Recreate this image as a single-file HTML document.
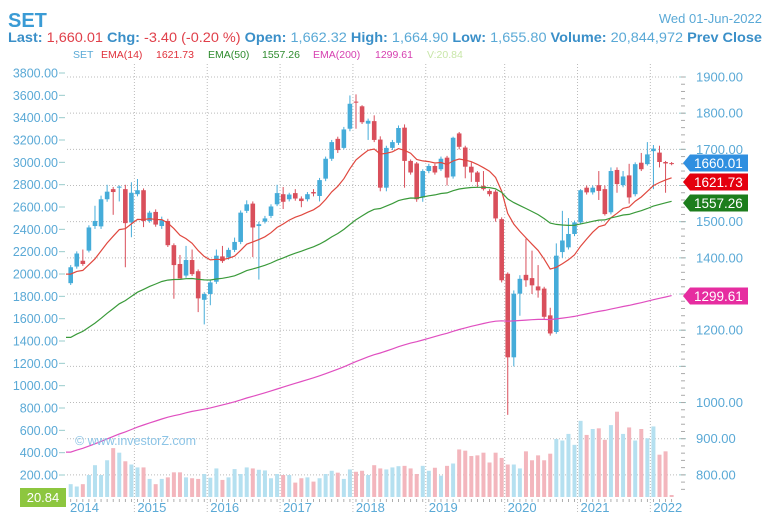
<!DOCTYPE html>
<html><head><meta charset="utf-8"><style>
html,body{margin:0;padding:0;background:#fff;}
svg{display:block;font-family:"Liberation Sans",sans-serif;}
</style></head><body>
<svg id="chart" width="768" height="518" viewBox="0 0 768 518" xmlns="http://www.w3.org/2000/svg">
<text x="8" y="27" font-size="20" font-weight="bold" fill="#3a9bd5">SET</text>
<text x="762" y="23" font-size="13" fill="#5aa9d6" text-anchor="end">Wed 01-Jun-2022</text>
<text x="8" y="42" font-size="13.5" textLength="754" lengthAdjust="spacingAndGlyphs"><tspan font-weight="bold" fill="#3a8fc8">Last:</tspan><tspan fill="#e0404a"> 1,660.01 </tspan><tspan font-weight="bold" fill="#3a8fc8">Chg:</tspan><tspan fill="#e0404a"> -3.40 (-0.20 %) </tspan><tspan font-weight="bold" fill="#3a8fc8"> Open:</tspan><tspan fill="#5aa9d6"> 1,662.32 </tspan><tspan font-weight="bold" fill="#3a8fc8">High:</tspan><tspan fill="#5aa9d6"> 1,664.90 </tspan><tspan font-weight="bold" fill="#3a8fc8">Low:</tspan><tspan fill="#5aa9d6"> 1,655.80 </tspan><tspan font-weight="bold" fill="#3a8fc8">Volume:</tspan><tspan fill="#5aa9d6"> 20,844,972 </tspan><tspan font-weight="bold" fill="#3a8fc8"> Prev Close</tspan></text>
<g font-size="10.5">
<text x="73" y="58" fill="#5aa9d6">SET</text>
<text x="101" y="58" fill="#e0303a">EMA(14)</text>
<text x="156" y="58" fill="#e0303a">1621.73</text>
<text x="208" y="58" fill="#2e8b2e">EMA(50)</text>
<text x="262" y="58" fill="#2e8b2e">1557.26</text>
<text x="313" y="58" fill="#d63fb0">EMA(200)</text>
<text x="375" y="58" fill="#d63fb0">1299.61</text>
<text x="427" y="58" fill="#c8e6a8">V:20.84</text>
</g>
<g id="grid"></g><g id="vol"></g><g id="candles"></g><g id="lines"></g><g id="axes"></g><g id="tags"></g>
<text x="75" y="445" font-size="12.5" fill="#8cc4e6">© www.investorZ.com</text>
</svg>
<script>
const years=["2014","2015","2016","2017","2018","2019","2020","2021","2022"];
const yearStartIndex=[-1,10,22,34,46,58,71,83,95];
const opens=[1330,1376,1392,1420,1488,1487,1562,1590,1594,1590,1498,1576,1587,1502,1527,1488,1502,1435,1383,1351,1394,1363,1284,1300,1334,1404,1401,1422,1444,1530,1550,1488,1500,1516,1548,1576,1562,1579,1564,1562,1582,1571,1619,1674,1729,1704,1757,1832,1819,1771,1778,1727,1594,1704,1718,1760,1668,1661,1567,1640,1654,1645,1677,1625,1744,1705,1652,1636,1599,1585,1583,1507,1356,1125,1301,1353,1344,1321,1315,1241,1195,1416,1429,1466,1498,1594,1581,1601,1590,1526,1643,1601,1628,1576,1663,1659,1695,1691,1665,1662];
const closes=[1374,1412,1383,1484,1502,1562,1583,1582,1597,1496,1580,1587,1502,1525,1492,1504,1435,1380,1343,1394,1355,1288,1300,1332,1406,1391,1422,1444,1525,1548,1484,1493,1509,1542,1579,1555,1575,1564,1557,1576,1578,1615,1674,1720,1698,1755,1826,1829,1775,1779,1726,1594,1704,1720,1759,1668,1636,1562,1640,1654,1636,1674,1622,1732,1707,1652,1636,1610,1590,1576,1509,1338,1125,1301,1342,1338,1324,1310,1237,1191,1406,1448,1466,1498,1587,1581,1594,1585,1521,1640,1604,1625,1567,1659,1645,1686,1702,1665,1661,1660];
const highs=[1380,1418,1423,1490,1544,1572,1602,1596,1600,1602,1609,1618,1592,1530,1534,1514,1508,1440,1408,1433,1423,1368,1305,1338,1423,1433,1428,1456,1531,1559,1556,1500,1516,1548,1602,1596,1580,1590,1570,1582,1590,1621,1680,1726,1735,1762,1849,1852,1822,1785,1794,1736,1710,1726,1766,1769,1672,1665,1645,1660,1660,1680,1682,1735,1748,1710,1664,1640,1640,1590,1588,1512,1360,1310,1352,1453,1420,1380,1320,1262,1440,1530,1510,1503,1590,1600,1600,1640,1600,1650,1650,1640,1660,1664,1690,1720,1712,1710,1668,1665];
const lows=[1325,1370,1378,1415,1480,1480,1555,1519,1556,1374,1457,1570,1485,1497,1486,1480,1430,1287,1343,1345,1350,1250,1216,1269,1328,1386,1395,1416,1438,1524,1402,1340,1495,1510,1543,1535,1556,1558,1540,1556,1570,1556,1612,1668,1690,1700,1750,1757,1770,1726,1720,1584,1584,1698,1712,1594,1630,1555,1555,1634,1630,1640,1600,1619,1700,1620,1610,1595,1586,1570,1500,1332,966,1100,1240,1320,1300,1290,1230,1185,1190,1400,1423,1460,1492,1575,1575,1560,1517,1520,1580,1595,1550,1570,1640,1655,1590,1650,1580,1656];
const volumes=[118,97,118,200,288,200,332,441,400,323,294,268,268,165,118,165,179,224,224,179,171,165,209,176,259,156,179,253,209,268,259,247,241,171,209,200,200,132,171,179,141,171,209,238,221,165,250,229,238,200,288,259,250,268,279,282,259,209,282,238,265,194,282,303,429,418,370,376,400,312,400,353,294,294,259,412,332,376,332,391,523,509,568,470,685,559,612,618,515,647,767,568,626,509,612,529,635,382,412,21];
const emaPeriods=[14,50,200];
const emaSeeds=[1355,1180,863];
const emaLast=["1621.73","1557.26","1299.61"];
const leftTicks=[3800,3600,3400,3200,3000,2800,2600,2400,2200,2000,1800,1600,1400,1200,1000,800,600,400,200];
const rightTicks=[1900,1800,1700,1600,1500,1400,1300,1200,1100,1000,900,800];
const rightLabelTicks=[1900,1800,1700,1500,1400,1200,1000,900,800];

const NS="http://www.w3.org/2000/svg";
function mk(tag,attrs,parent,txt){const e=document.createElementNS(NS,tag);for(const k in attrs)e.setAttribute(k,attrs[k]);if(txt!==undefined)e.textContent=txt;parent.appendChild(e);return e;}
const xOf=i=>70.7+i*6.07;
const yP=v=>77+(1900-v)*0.3617;
const yL=v=>73+(3800-v)*0.11167;
const G=id=>document.getElementById(id);
const grid=G('grid'),volG=G('vol'),cG=G('candles'),lG=G('lines'),aG=G('axes'),tG=G('tags');

rightTicks.forEach(v=>{
  const l=mk('line',{x1:67,x2:678,y1:yP(v),y2:yP(v),stroke:'#bbb','stroke-dasharray':'1,2','stroke-width':1},grid);
  
  
  mk('line',{x1:679,x2:686,y1:yP(v),y2:yP(v),stroke:'#9cc',"stroke-width":1},aG);
});
for(let v=1900;v>=760;v-=20){mk('line',{x1:681,x2:685,y1:yP(v),y2:yP(v),stroke:'#aaa','stroke-width':1},aG);}
rightLabelTicks.forEach(v=>{
  const t=mk('text',{x:696,y:yP(v)+4.5,'font-size':13,fill:'#5aa9d6'},aG,v.toFixed(2));
  
  
});
leftTicks.forEach(v=>{
  const t=mk('text',{x:58,y:yL(v)+4.5,'font-size':12.5,fill:'#5aa9d6','text-anchor':'end'},aG,v.toFixed(2));
  
  
  mk('line',{x1:59,x2:65,y1:yL(v),y2:yL(v),stroke:'#9cc','stroke-width':1},aG);
});
years.forEach((y,k)=>{
  const gx=xOf(yearStartIndex[k])+3;
  if(k>0){const l=mk('line',{x1:gx,x2:gx,y1:64,y2:512,stroke:'#bbb','stroke-dasharray':'1,2','stroke-width':1},grid);
  
  }
  const t=mk('text',{x:k===0?70:gx+3,y:512,'font-size':13,fill:'#5aa9d6'},aG,y);
  
  
});
for(let i=0;i<closes.length;i++){mk('line',{x1:xOf(i),x2:xOf(i),y1:499,y2:502,stroke:'#999','stroke-width':0.8},aG);}

closes.forEach((c,i)=>{
  const up=c>=opens[i];
  const top=yL(volumes[i]);
  const r=mk('rect',{x:xOf(i)-2,y:top,width:4,height:497-top,fill:up?'#b5e0f0':'#f3b6bd'},volG);
  
  
});
closes.forEach((c,i)=>{
  const up=c>=opens[i];const col=up?'#45acd9':'#d94f5b';
  const g=mk('g',{},cG);
  
  
  mk('line',{x1:xOf(i),x2:xOf(i),y1:yP(highs[i]),y2:yP(lows[i]),stroke:col,'stroke-width':1},g);
  const t=yP(Math.max(c,opens[i])),b=yP(Math.min(c,opens[i]));
  mk('rect',{x:xOf(i)-2.3,y:t,width:4.6,height:Math.max(1,b-t),fill:col},g);
});
const emaColors=['#e0483f','#3a9a3a','#e04fc0'];
const emaNames=['ema-14-line','ema-50-line','ema-200-line'];
emaPeriods.forEach((p,k)=>{
  const a=2/(p+1);let e=emaSeeds[k];const pts=[];
  closes.forEach((c,i)=>{if(i>0)e=e+a*(c-e);pts.push(xOf(i).toFixed(1)+','+yP(e).toFixed(1));});
  pts.unshift('66,'+yP(emaSeeds[k]).toFixed(1));
  const pl=mk('polyline',{points:pts.join(' '),fill:'none',stroke:emaColors[k],'stroke-width':1.2},lG);
  
  
});
const tagVals=[1660.01,1621.73,1557.26,1299.61];
const tagText=["1660.01",emaLast[0],emaLast[1],emaLast[2]];
const tagColors=['#2f8fe0','#e4000e','#1c7d1c','#e62da0'];
const tagYs=[163,182,203,296];
tagVals.forEach((v,k)=>{
  const cy=tagYs[k];
  const g=mk('g',{},tG);
  
  
  mk('path',{d:`M683 ${cy} L690 ${cy-8.5} L748 ${cy-8.5} L748 ${cy+8.5} L690 ${cy+8.5} Z`,fill:tagColors[k]},g);
  mk('text',{x:694,y:cy+5,'font-size':13.5,fill:'#fff'},g,tagText[k]);
});
const vb=mk('g',{},tG);


mk('rect',{x:20,y:488,width:46,height:19,fill:'#8dc63f'},vb);
mk('text',{x:43,y:502,'font-size':13,fill:'#fff','text-anchor':'middle'},vb,'20.84');
</script>
</body></html>
